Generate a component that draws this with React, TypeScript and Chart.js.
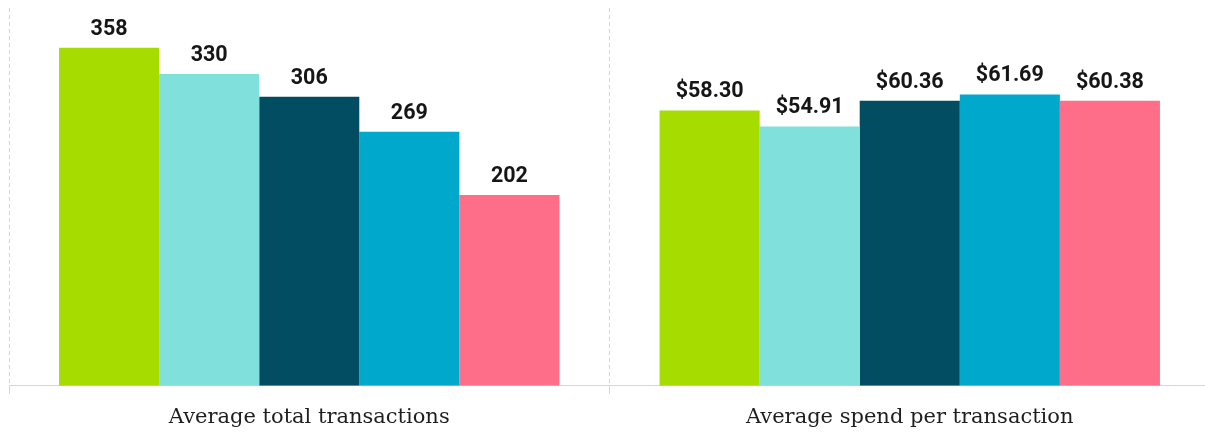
import React, { useEffect, useRef } from "react";
import { Chart, registerables } from "chart.js";

Chart.register(...registerables);

const categories = ["Average total transactions", "Average spend per transaction"];
const seriesColors = ["#a6dc00", "#7fe0dc", "#034d63", "#00a9cb", "#ff6e88"];
const totalTransactions = [358, 330, 306, 269, 202];
const spendPerTransaction = [58.3, 54.91, 60.36, 61.69, 60.38];

const valueLabels: any = {
  id: "valueLabels",
  afterDatasetsDraw(chart: any) {
    const ctx = chart.ctx;
    ctx.save();
    ctx.font = "bold 21.5px Roboto";
    ctx.fillStyle = "#161616";
    ctx.textAlign = "center";
    ctx.textBaseline = "alphabetic";
    chart.data.datasets.forEach((ds: any, i: number) => {
      const meta = chart.getDatasetMeta(i);
      meta.data.forEach((bar: any, j: number) => {
        const v = ds.data[j];
        if (v === null || v === undefined) return;
        const txt = ds.yAxisID === "y2" ? "$" + v.toFixed(2) : String(v);
        ctx.fillText(txt, bar.x, bar.y - 13);
      });
    });
    ctx.restore();
  },
};

export default function App() {
  const ref = useRef<HTMLCanvasElement>(null);
  useEffect(() => {
    const datasets: any[] = [];
    totalTransactions.forEach((v, i) => {
      datasets.push({
        data: [v, null],
        backgroundColor: seriesColors[i],
        yAxisID: "y",
        skipNull: true,
      });
    });
    spendPerTransaction.forEach((v, i) => {
      datasets.push({
        data: [null, v],
        backgroundColor: seriesColors[i],
        yAxisID: "y2",
        skipNull: true,
      });
    });
    const chart = new Chart(ref.current!, {
      type: "bar",
      data: { labels: categories, datasets },
      plugins: [valueLabels],
      options: {
        animation: false,
        responsive: false,
        layout: { padding: { left: 9, right: 2, top: 8, bottom: 0 } },
        datasets: { bar: { categoryPercentage: 0.8333, barPercentage: 1 } },
        plugins: { legend: { display: false }, tooltip: { enabled: false } },
        scales: {
          x: {
            grid: {
              offset: true,
              color: "#d6d6d6",
              tickLength: 8,
              tickColor: "#d6d6d6",
            } as any,
            border: { display: true, color: "#d6d6d6", dash: [4, 3] },
            ticks: {
              font: { family: "DejaVu Serif", size: 21 },
              color: "#1e1e1e",
              padding: 11,
            },
          },
          y: { display: false, min: 0, max: 400 },
          y2: { display: false, min: 0, max: 80 },
        },
      },
    });
    return () => chart.destroy();
  }, []);
  return (
    <div style={{ position: "absolute", left: 0, top: 0, width: 1205, height: 434, overflow: "hidden", background: "#fff" }}>
      <canvas ref={ref} width={1212} height={441} style={{ display: "block" }} />
    </div>
  );
}
